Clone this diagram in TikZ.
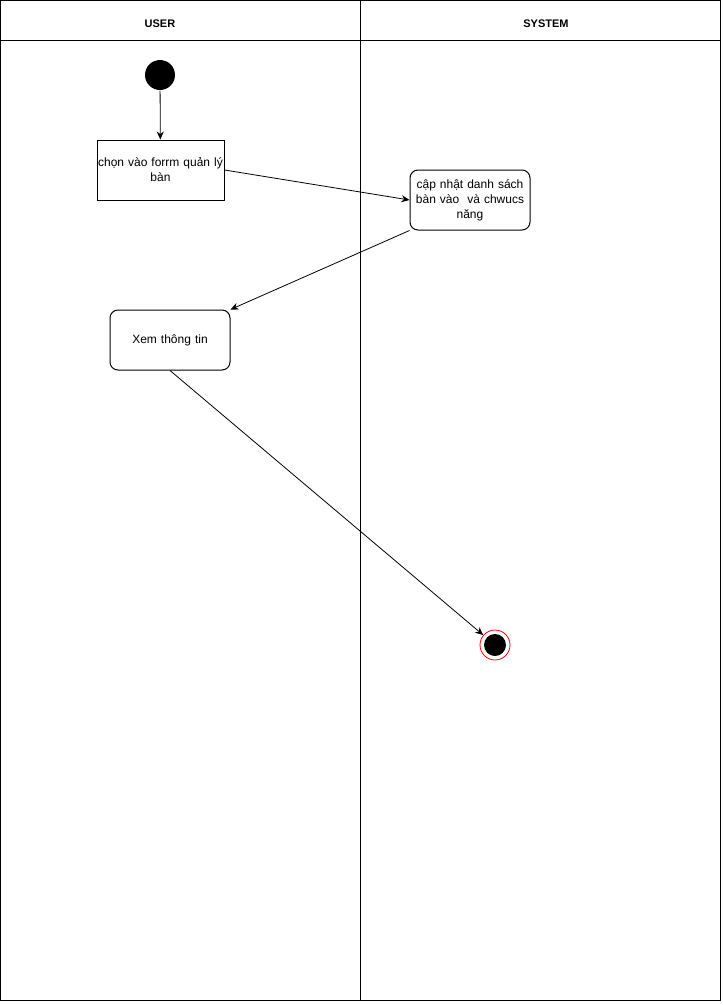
\documentclass[tikz,border=0pt]{standalone}
\usepackage{fontspec}
\setmainfont{Liberation Sans}
\usetikzlibrary{arrows.meta}
\begin{document}
\begin{tikzpicture}[x=1pt,y=-1pt,line width=1pt,
  act/.style={draw,align=center,minimum width=120pt,minimum height=60pt,text width=118pt,font=\fontsize{12}{15}\selectfont,inner sep=1pt},
  ract/.style={act,rounded corners=8pt},
  arr/.style={-{Stealth[length=8pt,width=7pt]},line width=0.8pt},
  hdr/.style={font=\fontsize{11}{13}\selectfont\bfseries}]
\useasboundingbox (0,0) rectangle (723,1005);
% swimlanes
\draw (0.5,0.5) rectangle (720.5,1000.5);
\draw (0.5,40.5) -- (720.5,40.5);
\draw (360.5,0.5) -- (360.5,1000.5);
\node[hdr] (huser) at (160,24) {USER};
\node[hdr] (hsys) at (546,24) {SYSTEM};
% nodes
\node[circle,fill=black,minimum size=30pt,inner sep=0pt] (start) at (160,75) {};
\node[act,minimum width=125pt,text width=125pt] (n1) at (160.5,170) {chọn vào forrm quản lý\\bàn};
\node[ract] (n2) at (470,200) {cập nhật danh sách\\bàn vào\ \ và chwucs\\năng};
\node[ract] (n3) at (170,340) {Xem thông tin};
\node[circle,draw=red,fill=white,line width=0.8pt,minimum size=30pt,inner sep=0pt] (end) at (495,645) {};
\node[circle,fill=black,minimum size=22pt,inner sep=0pt] (endin) at (495,645) {};
% connectors
\draw[arr] (start) -- (n1);
\draw[arr] (n1.east) -- (n2.west);
\draw[arr] (n2.south west) -- (n3.north east);
\draw[arr] (n3.south) -- (end);
\end{tikzpicture}
\end{document}
